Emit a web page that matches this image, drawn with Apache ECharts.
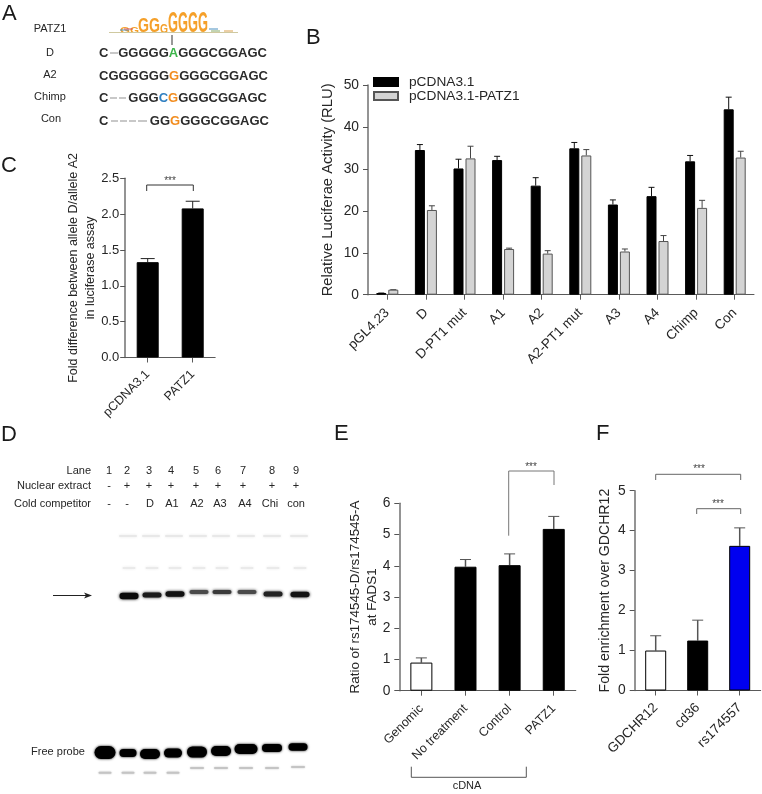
<!DOCTYPE html>
<html><head><meta charset="utf-8">
<style>html,body{margin:0;padding:0;background:#fff}#c{width:762px;height:794px}</style>
<script src="https://cdn.jsdelivr.net/npm/echarts@6/dist/echarts.min.js"></script>
</head><body><div id="c"></div>
<script>
var bCategories=['pGL4.23','D','D-PT1 mut','A1','A2','A2-PT1 mut','A3','A4','Chimp','Con'];
var bControl=[0.4,34.5,30.1,32.1,26,34.9,21.5,23.5,31.8,44.2];
var bControlTop=[0.4,35.8,32.3,33,27.9,36.3,22.6,25.6,33.2,47.1];
var bPatz=[1.2,20.2,32.5,10.9,9.8,33.2,10.3,12.8,20.7,32.7];
var bPatzTop=[1.2,21.2,35.4,11.1,10.5,34.6,10.9,14.1,22.5,34.2];
var cCategories=['pCDNA3.1','PATZ1'];
var cValues=[1.33,2.08];
var cTop=[1.38,2.18];
var eCategories=['Genomic','No treatment','Control','PATZ1'];
var eValues=[0.9,3.97,4.02,5.18];
var eTop=[1.05,4.2,4.38,5.58];
var eColors=['#ffffff','#000000','#000000','#000000'];
var fCategories=['GDCHR12','cd36','rs174557'];
var fValues=[1,1.25,3.62];
var fTop=[1.37,1.76,4.07];
var fColors=['#ffffff','#000000','#0000f0'];
var laneNumbers=['1','2','3','4','5','6','7','8','9'];
var laneExtract=['-','+','+','+','+','+','+','+','+'];
var laneCold=['-','-','D','A1','A2','A3','A4','Chi','con'];

var FONT='"Liberation Sans",Arial,sans-serif', TXT='#262626', AX='#5a5a5a';
function yAxis(i,name,max,interval,gap,fs,dec,offset,tfs,margin){return {gridIndex:i,type:'value',min:0,max:max,interval:interval,name:name,nameLocation:'middle',nameGap:gap,nameMoveOverlap:false,offset:offset||0,
  nameTextStyle:{fontFamily:FONT,fontSize:fs,color:TXT,lineHeight:17},
  axisLine:{show:true,lineStyle:{color:'#707070',width:1.5}},axisTick:{show:true,length:5,lineStyle:{color:'#555',width:1}},
  axisLabel:{fontFamily:FONT,fontSize:tfs||13.8,color:TXT,margin:margin||9,formatter:function(v){return dec?v.toFixed(dec):String(v);}},splitLine:{show:false}};}
function xAxis(i,cats,fs,margin){return {gridIndex:i,type:'category',data:cats,
  axisLine:{show:true,lineStyle:{color:AX,width:1}},axisTick:{show:true,length:5,alignWithLabel:true,lineStyle:{color:AX,width:1}},
  axisLabel:{fontFamily:FONT,fontSize:fs,color:TXT,rotate:45,margin:margin,interval:0},splitLine:{show:false}};}
function err(i,vals,tops,off,cap,color,lw){return {type:'custom',xAxisIndex:i,yAxisIndex:i,silent:true,z:1,
  data:vals.map(function(v,k){return [k,v,tops[k]];}),encode:{x:0,y:[1,2]},
  renderItem:function(p,api){var a=api.coord([api.value(0),api.value(1)]),b=api.coord([api.value(0),api.value(2)]);var x=a[0]+off;
    var s={stroke:color,lineWidth:lw||1,fill:null};
    return {type:'group',children:[{type:'line',shape:{x1:x,y1:a[1],x2:x,y2:b[1]},style:s},{type:'line',shape:{x1:x-cap/2,y1:b[1],x2:x+cap/2,y2:b[1]},style:{stroke:color,lineWidth:1,fill:null}}]};}};}
function bars(i,name,vals,colors,border,width,gap){return {type:'bar',name:name,xAxisIndex:i,yAxisIndex:i,barWidth:width,barGap:gap||'0%',z:2,silent:true,
  itemStyle:{color:Array.isArray(colors)?colors[0]:colors,borderColor:border,borderWidth:1},
  data:vals.map(function(v,k){return {value:v,itemStyle:{color:Array.isArray(colors)?colors[k]:colors,borderColor:border,borderWidth:1}};})};}

var g=[];
function T(x,y,t,fs,opt){opt=opt||{};g.push({type:'text',x:x,y:y,silent:true,scaleX:opt.sx||1,scaleY:opt.sy||1,z:10,style:{text:t,fontFamily:FONT,fontSize:fs,fontWeight:opt.w||'normal',fill:opt.c||TXT,textAlign:opt.a||'center',textVerticalAlign:opt.v||'middle',rich:opt.rich}});}
function L(pts,c,lw){g.push({type:'polyline',silent:true,z:10,shape:{points:pts},style:{stroke:c||'#333',lineWidth:lw||1,fill:null}});}
/* panel letters */
[['A',2,14],['B',306,37.5],['C',1,165.5],['D',1,435],['E',334,434],['F',596,434]].forEach(function(p){T(p[1],p[2],p[0],22,{a:'left',c:'#1a1a1a'});});
/* panel A */
[['PATZ1',50,29],['D',50,53],['A2',50,75],['Chimp',50,97],['Con',51,119]].forEach(function(p){T(p[1],p[2],p[0],11);});
function st(c){return {fontFamily:FONT,fontWeight:'bold',fontSize:13,fill:c};}
var rich={k:st('#2b2b2b'),g:st('#3cb54a'),o:st('#f28c1e'),b:st('#2f7fc1')};
T(267,53,'{k|GGGGG}{g|A}{k|GGGCGGAGC}',13,{a:'right',rich:rich});
T(268,76,'{k|CGGGGGG}{o|G}{k|GGGCGGAGC}',13,{a:'right',rich:rich});
T(267,98,'{k|GGG}{b|C}{o|G}{k|GGGCGGAGC}',13,{a:'right',rich:rich});
T(269,121,'{k|GG}{o|G}{k|GGGCGGAGC}',13,{a:'right',rich:rich});
T(99,53,'C',13,{a:'left',w:'bold',c:'#2b2b2b'});T(99,98,'C',13,{a:'left',w:'bold',c:'#2b2b2b'});T(99,121,'C',13,{a:'left',w:'bold',c:'#2b2b2b'});
[[110,53,118,53],[110,98,117,98],[119,98,126,98],[111,121,118,121],[120,121,127,121],[129,121,136,121],[138,121,147,121]].forEach(function(d){L([[d[0],d[1]],[d[2],d[3]]],'#c8c8c8',2);});
L([[172,35],[172,45]],'#333',1);
/* sequence logo: x, width, height */
var logo=[[120,10,6],[130,9,7],[138,11,15],[149,11,15],[160,8,9],[168,10,21],[178,10,21],[188,10,21],[198,10,21]];
logo.forEach(function(l){var sy=l[2]/21.9;T(l[0],33+6*sy,'G',30,{a:'left',v:'bottom',w:'bold',c:'#f5a02a',sx:l[1]/23.3,sy:sy});});
L([[109,32.5],[238,32.5]],'#cfc9a0',1);
[[120,30,'#4a90c0'],[124,29,'#d9534f'],[209,29,'#4a90c0'],[211,31,'#88aa66'],[224,31,'#d9a04f']].forEach(function(d){L([[d[0],d[1]],[d[0]+9,d[1]]],d[2],1);});
/* panel C bracket */
L([[146.7,191],[146.7,185],[193.3,185],[193.3,191]],'#333',1);T(170,181,'***',10,{c:'#444'});
/* panel E brackets */
L([[508.7,535.7],[508.7,471],[554,471],[554,485]],'#777',1);T(531,467,'***',10,{c:'#444'});
L([[411.3,766.7],[411.3,777.3],[526.3,777.3],[526.3,766.7]],'#555',1);T(467,786,'cDNA',11);
/* panel F brackets */
L([[655.7,480],[655.7,474.3],[740.7,474.3],[740.7,480]],'#666',1);T(699,469.5,'***',10,{c:'#444'});
L([[696.7,514],[696.7,508.7],[740.7,508.7],[740.7,514]],'#666',1);T(718,504,'***',10,{c:'#444'});
/* panel D labels */
var laneX=[109,127,149,171,196,218,243,272,296];
var laneTextX=[109,127,150,172,197,220,245,270,296];
T(91,471,'Lane',11,{a:'right'});T(91,486,'Nuclear extract',11,{a:'right'});T(91,504,'Cold competitor',11,{a:'right'});
laneNumbers.forEach(function(t,i){T(laneX[i],471,t,11);T(laneX[i],486,laneExtract[i],11);T(laneTextX[i],504,laneCold[i],11);});
T(58,752,'Free probe',11);
L([[53,595.5],[88,595.5]],'#222',1);
g.push({type:'polygon',silent:true,z:10,shape:{points:[[92,595.5],[84,592.5],[86,595.5],[84,598.5]]},style:{fill:'#222'}});
/* gel bands */
function B(cx,cy,w,h,fill,blur,z){g.push({type:'rect',silent:true,z:z||5,shape:{x:cx-w/2,y:cy-h/2,width:w,height:h,r:h/2},style:{fill:fill,shadowBlur:blur,shadowColor:fill}});}
var shiftX=[129,152,175,199,222,247,273,300];
var shiftY=[596,595,594,592,592,592,594,594.5], shiftH=[6.5,5,5.5,4,4,4,5,5.5], shiftC=['#0a0a0a','#1a1a1a','#111','#4a4a4a','#3a3a3a','#4a4a4a','#222','#111'];
shiftX.forEach(function(x,i){B(x,shiftY[i],19,shiftH[i],shiftC[i],3);B(x,568,13,2,'#eaeaea',3);B(x-1,536,18,2,'#e8e8e8',3);});
var freeX=[105,128,150,173,197,221,246,272,298], freeY=[752.5,753,754,753,752,751,749,748,747], freeW=[21,17,20,18,20,20,23,20,19], freeH=[13,8,10,9,11,10,10,8,7.5];
freeX.forEach(function(x,i){B(x,freeY[i],freeW[i],freeH[i],'#000',2.5);B(x,i>3?768+(i==8?-1:0):772.7,i>3?14:13,2,'#c4c4c4',2);});

var chart=echarts.init(document.getElementById('c'),null,{renderer:'canvas'});
chart.setOption({animation:false,backgroundColor:'#fff',
 legend:{show:true,left:373,top:75,orient:'vertical',icon:'rect',data:['pCDNA3.1','pCDNA3.1-PATZ1'],itemWidth:24,itemHeight:8,itemGap:0,padding:0,selectedMode:false,
   textStyle:{fontFamily:FONT,fontSize:13.7,color:TXT,padding:[0,0,0,6],lineHeight:14}},
 grid:[{left:368,top:85,width:386,height:209.7},{left:125.2,top:178.3,width:90,height:179.2},{left:399.3,top:503.3,width:176.5,height:187.4},{left:634.7,top:490.7,width:126,height:199.8}],
 xAxis:[xAxis(0,bCategories,13.5,16),xAxis(1,cCategories,12.5,15),xAxis(2,eCategories,12.5,16),xAxis(3,fCategories,13.5,15)],
 yAxis:[yAxis(0,'Relative Luciferae Activity (RLU)',50,10,31.5,14.8),yAxis(1,'Fold difference between allele D/allele A2\nin luciferase assay',2.5,0.5,26.5,12.5,1,0,13,6),
   yAxis(2,'Ratio of rs174545-D/rs174545-A\nat FADS1',6,1,18,13.4),yAxis(3,'Fold enrichment over GDCHR12',5,1,21,14.1)],
 series:[bars(0,'pCDNA3.1',bControl,'#000000','#000',10,'20%'),bars(0,'pCDNA3.1-PATZ1',bPatz,'#d4d4d4','#555',10,'20%'),
   err(0,bControl,bControlTop,-6,6,'#111'),err(0,bPatz,bPatzTop,6,6,'#444'),
   bars(1,'c',cValues,'#000000','#000',22),err(1,cValues,cTop,0,14,'#222'),
   bars(2,'e',eValues,eColors,'#000',22),err(2,eValues,eTop,0,11,'#555',1.5),
   bars(3,'f',fValues,fColors,'#000',21),err(3,fValues,fTop,0,11,'#555',1.5)],
 graphic:{elements:g}});
</script></body></html>
